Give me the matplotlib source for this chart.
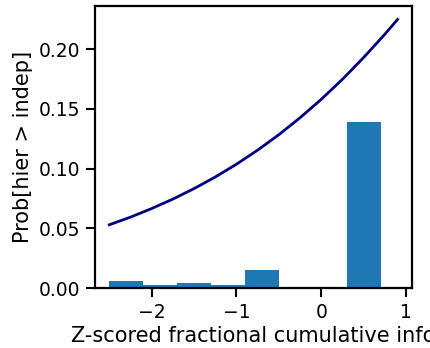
import matplotlib
matplotlib.use("Agg")
import matplotlib.pyplot as plt
import numpy as np

# histogram of z-scored values (bin left edges, heights)
bin_left = [-2.5, -2.1, -1.7, -1.3, -0.9, -0.5, -0.1, 0.3]
bin_height = [0.006, 0.003, 0.0045, 0.0028, 0.0148, 0.0, 0.0, 0.139]
bin_width = 0.4

# probability curve
curve_x = [-2.5, -2.25, -2.0, -1.75, -1.5, -1.25, -1.0, -0.75, -0.5,
           -0.25, 0.0, 0.25, 0.5, 0.75, 0.9]
curve_y = [0.053, 0.0594, 0.0666, 0.0745, 0.0833, 0.0930, 0.1037, 0.1155,
           0.1284, 0.1426, 0.1580, 0.1748, 0.1930, 0.2125, 0.2249]

plt.rcParams['font.family'] = ['DejaVu Sans']

fig = plt.figure(figsize=(4.31, 3.48), dpi=100)
ax = fig.add_axes([0.220, 0.172, 0.736, 0.811])

ax.bar(bin_left, bin_height, width=bin_width, align='edge', color='#1f77b4')
ax.plot(curve_x, curve_y, color='navy', linewidth=2)

ax.set_xticks([-2, -1, 0, 1])
ax.set_xticklabels(['\u22122', '\u22121', '0', '1'])
ax.set_yticks([0.0, 0.05, 0.10, 0.15, 0.20])
ax.set_yticklabels(['0.00', '0.05', '0.10', '0.15', '0.20'])

ax.tick_params(axis='both', which='major', length=6.5, width=1.5, labelsize=13.5, pad=4)
for s in ax.spines.values():
    s.set_linewidth(1.6)

ax.set_xlabel("Z-scored fractional cumulative info", fontsize=15, labelpad=3)
ax.set_ylabel("Prob[hier > indep]", fontsize=15, labelpad=4)

fig.savefig("out.png", dpi=100)
